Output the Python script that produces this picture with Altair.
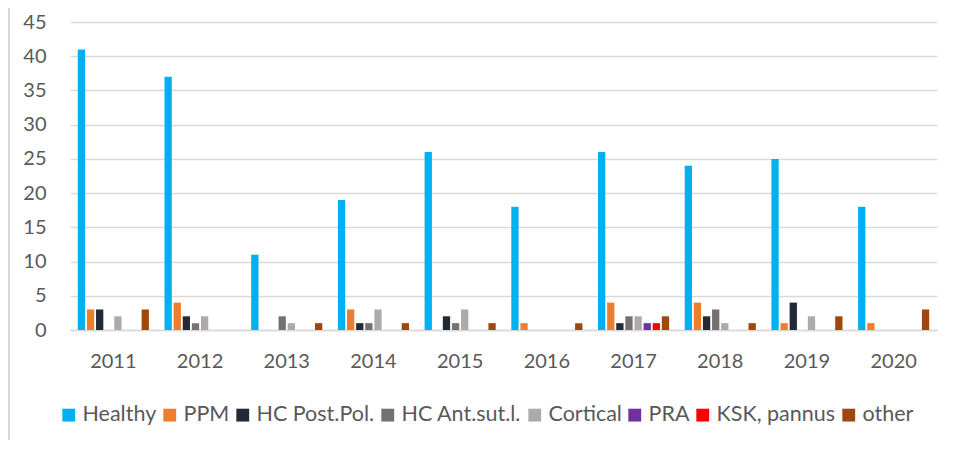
import altair as alt
import pandas as pd

years = ["2011", "2012", "2013", "2014", "2015", "2016", "2017", "2018", "2019", "2020"]
series = ["Healthy", "PPM", "HC Post.Pol.", "HC Ant.sut.l.", "Cortical", "PRA", "KSK, pannus", "other"]
colors = ["#00B0F0", "#ED7D31", "#222A35", "#767171", "#AEAAAA", "#7030A0", "#FF0000", "#9E480E"]

healthy = [41, 37, 11, 19, 26, 18, 26, 24, 25, 18]
ppm = [3, 4, 0, 3, 0, 1, 4, 4, 1, 1]
hc_post = [3, 2, 0, 1, 2, 0, 1, 2, 4, 0]
hc_ant = [0, 1, 2, 1, 1, 0, 2, 3, 0, 0]
cortical = [2, 2, 1, 3, 3, 0, 2, 1, 2, 0]
pra = [0, 0, 0, 0, 0, 0, 1, 0, 0, 0]
ksk = [0, 0, 0, 0, 0, 0, 1, 0, 0, 0]
other = [3, 0, 1, 1, 1, 1, 2, 1, 2, 3]

values = [healthy, ppm, hc_post, hc_ant, cortical, pra, ksk, other]
rows = []
for s, vals in zip(series, values):
    for y, v in zip(years, vals):
        rows.append({"year": y, "series": s, "value": v})
df = pd.DataFrame(rows)

FONT = "Lato"
TXT = "#595959"

bars = alt.Chart(df).mark_bar().encode(
    x=alt.X("year:N", sort=years, title=None,
            scale=alt.Scale(paddingInner=0.18, paddingOuter=0.09),
            axis=alt.Axis(labelAngle=0, ticks=False, domainColor="#d9d9d9",
                          domainWidth=1.5, labelPadding=21)),
    xOffset=alt.XOffset("series:N", sort=series, scale=alt.Scale(paddingInner=0.2)),
    y=alt.Y("value:Q", title=None,
            scale=alt.Scale(domain=[0, 45], nice=False),
            axis=alt.Axis(values=list(range(0, 50, 5)), ticks=False, domain=False,
                          gridColor="#d9d9d9", gridWidth=1.5, labelPadding=24)),
    color=alt.Color("series:N", sort=series,
                    scale=alt.Scale(domain=series, range=colors),
                    legend=alt.Legend(title=None, orient="none", direction="horizontal",
                                      columns=8, legendX=-12, legendY=382,
                                      symbolType="square", symbolSize=165,
                                      symbolStrokeWidth=0, labelOffset=3,
                                      columnPadding=2, padding=0,
                                      labelFontSize=21.5, labelFont=FONT,
                                      labelColor=TXT)),
)

border = alt.Chart(df).mark_rule(color="#d9d9d9", strokeWidth=2).encode(
    x=alt.value(-61), y=alt.value(-22), y2=alt.value(418)
)

chart = alt.layer(border, bars).properties(
    width=867, height=308,
    autosize=alt.AutoSizeParams(type="none"),
    padding={"left": 62, "top": 14, "right": 9, "bottom": 113},
).configure_view(stroke=None).configure_axis(
    labelFont=FONT, labelFontSize=20, labelColor=TXT
)

chart.save("out.html", embed_options={"renderer": "svg", "actions": False})
